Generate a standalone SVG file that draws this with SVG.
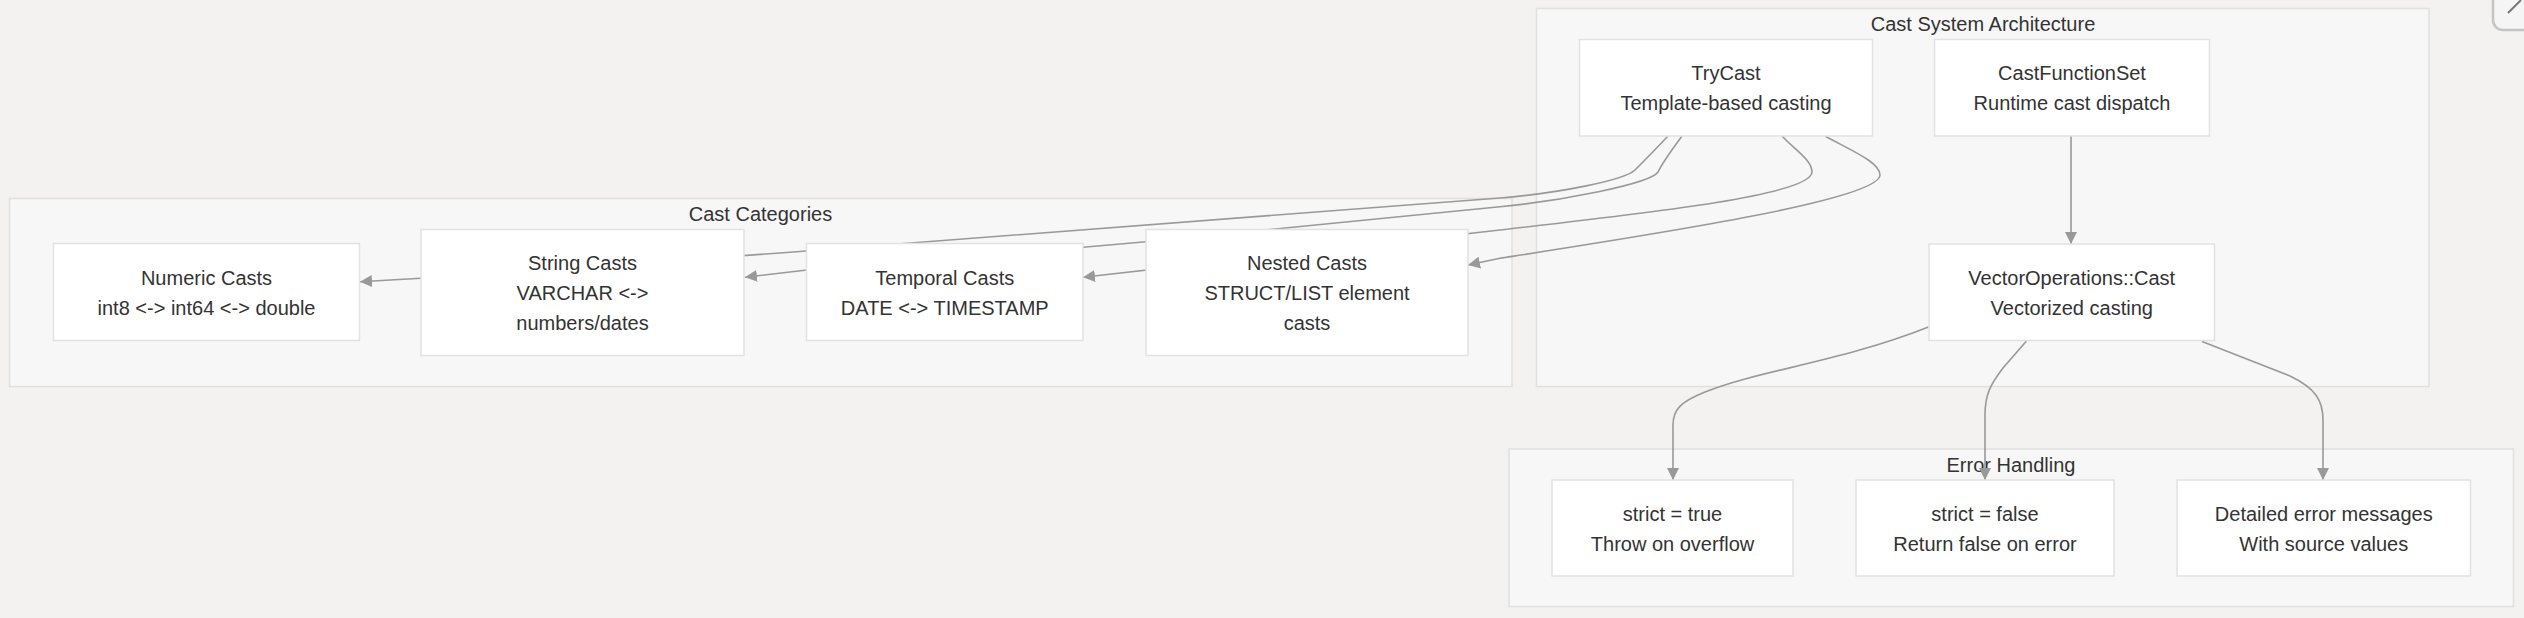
<svg xmlns="http://www.w3.org/2000/svg" width="2524" height="618" viewBox="0 0 2524 618">
<style>
.bg{fill:#f3f2f0}
.cluster{fill:#f7f7f7;stroke:#e0e0e0;stroke-width:1.5}
.node{fill:#ffffff;stroke:#e2e2e2;stroke-width:1.5}
.t{font-family:"Liberation Sans",Arial,sans-serif;font-size:20px;fill:#333333;text-anchor:middle;dominant-baseline:central}
.edge{fill:none;stroke:#999999;stroke-width:1.6}
</style>
<defs>
<marker id="arr" markerUnits="userSpaceOnUse" markerWidth="13" markerHeight="12" refX="12" refY="6" orient="auto">
<path d="M0,0 L12,6 L0,12 z" fill="#999999"/>
</marker>
</defs>
<rect class="bg" x="0" y="0" width="2524" height="618"/>

<g id="cluster-categories">
<rect class="cluster" x="9.5" y="198.5" width="1502.5" height="188"/>
<text class="t" x="760.5" y="213.5">Cast Categories</text>
</g>
<g id="cluster-architecture">
<rect class="cluster" x="1536.5" y="8.5" width="892.5" height="378"/>
<text class="t" x="1983" y="23.5">Cast System Architecture</text>
</g>
<g id="cluster-errors">
<rect class="cluster" x="1509" y="449" width="1004.5" height="157.5"/>
<text class="t" x="2011" y="465">Error Handling</text>
</g>

<g id="connectors">
<path class="edge" marker-end="url(#arr)" d="M1668,136 C1655,150 1645,160 1635,170 C1625,180 1560,193 1500,198 L780,253 L421,278.3 L360,281.7"/>
<path class="edge" marker-end="url(#arr)" d="M1682,136 C1672,150 1664,160 1658,172 C1650,184 1560,201 1500,206.7 L1146,241.7 L1083,247.3 L807,270 L745,277.3"/>
<path class="edge" marker-end="url(#arr)" d="M1782,136 C1795,150 1812,160 1812,172 C1812,195 1650,213 1500,230 L1083,277.3"/>
<path class="edge" marker-end="url(#arr)" d="M1825,136 C1850,150 1880,162 1880,175 C1880,200 1650,235 1500,258.3 L1468,265"/>
<path class="edge" marker-end="url(#arr)" d="M2071,136 L2071,244"/>
<path class="edge" marker-end="url(#arr)" d="M1928.5,327 C1840,362 1760,370 1705,392 C1680,402 1673,410 1673,425 L1673,480"/>
<path class="edge" marker-end="url(#arr)" d="M2026.5,341 L2003,368 C1990,385 1985,395 1985,415 L1985,480"/>
<path class="edge" marker-end="url(#arr)" d="M2202,341.5 L2290,376 C2315,388 2323,400 2323,420 L2323,480"/>
</g>

<g id="node-numeric">
<rect class="node" x="53.5" y="243.5" width="306" height="97"/>
<text class="t" x="206.5" y="278">Numeric Casts</text>
<text class="t" x="206.5" y="308">int8 &lt;-&gt; int64 &lt;-&gt; double</text>
</g>
<g id="node-string">
<rect class="node" x="421" y="229.5" width="323" height="126"/>
<text class="t" x="582.5" y="263">String Casts</text>
<text class="t" x="582.5" y="293">VARCHAR &lt;-&gt;</text>
<text class="t" x="582.5" y="323">numbers/dates</text>
</g>
<g id="node-temporal">
<rect class="node" x="806.5" y="243.5" width="276.5" height="97"/>
<text class="t" x="944.75" y="278">Temporal Casts</text>
<text class="t" x="944.75" y="308">DATE &lt;-&gt; TIMESTAMP</text>
</g>
<g id="node-nested">
<rect class="node" x="1146" y="229.5" width="322" height="126"/>
<text class="t" x="1307" y="263">Nested Casts</text>
<text class="t" x="1307" y="293">STRUCT/LIST element</text>
<text class="t" x="1307" y="323">casts</text>
</g>
<g id="node-trycast">
<rect class="node" x="1579.5" y="39.5" width="293" height="96.5"/>
<text class="t" x="1726" y="73">TryCast</text>
<text class="t" x="1726" y="103">Template-based casting</text>
</g>
<g id="node-castfunctionset">
<rect class="node" x="1934.5" y="39.5" width="275" height="96.5"/>
<text class="t" x="2072" y="73">CastFunctionSet</text>
<text class="t" x="2072" y="103">Runtime cast dispatch</text>
</g>
<g id="node-vectorops">
<rect class="node" x="1929" y="244" width="285.5" height="96.5"/>
<text class="t" x="2071.75" y="278">VectorOperations::Cast</text>
<text class="t" x="2071.75" y="308">Vectorized casting</text>
</g>
<g id="node-strict-true">
<rect class="node" x="1552" y="480" width="241" height="96"/>
<text class="t" x="1672.5" y="514">strict = true</text>
<text class="t" x="1672.5" y="544">Throw on overflow</text>
</g>
<g id="node-strict-false">
<rect class="node" x="1856" y="480" width="258" height="96"/>
<text class="t" x="1985" y="514">strict = false</text>
<text class="t" x="1985" y="544">Return false on error</text>
</g>
<g id="node-detailed">
<rect class="node" x="2177" y="480" width="293.5" height="96"/>
<text class="t" x="2323.75" y="514">Detailed error messages</text>
<text class="t" x="2323.75" y="544">With source values</text>
</g>

<g id="corner-button">
<rect x="2493" y="-22" width="60" height="52" rx="10" fill="#f5f5f5" stroke="#c4c4c4" stroke-width="2.5"/>
<path d="M2508,13 L2521,0" stroke="#777777" stroke-width="2" fill="none"/>
</g>
</svg>
